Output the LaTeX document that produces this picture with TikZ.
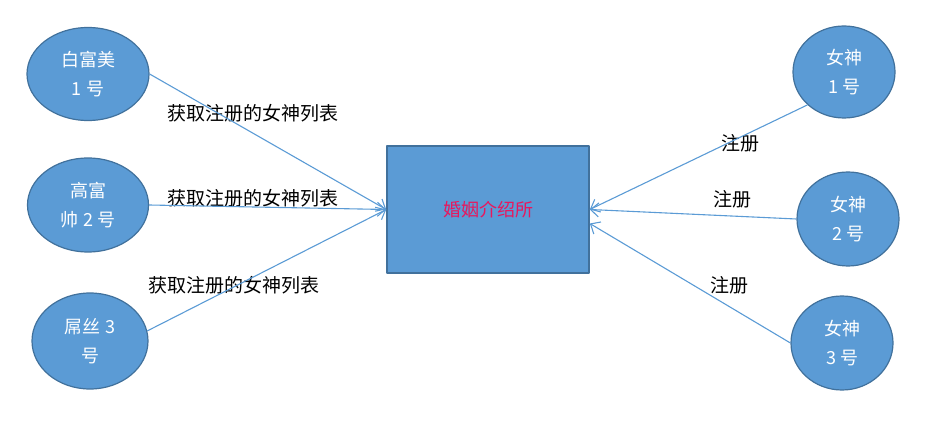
\documentclass[tikz,border=0pt]{standalone}
\usepackage{fontspec}
\usepackage{tikz}
\usetikzlibrary{arrows.meta}
\usetikzlibrary{shapes}
\newfontfamily\cjk{Noto Sans CJK SC}
\definecolor{nodeblue}{HTML}{5B9BD5}
\definecolor{nodeedge}{HTML}{41719C}
\definecolor{boxtext}{HTML}{E8175D}

\begin{document}
\begin{tikzpicture}[>={Straight Barb[length=8bp,width=14bp]},line join=bevel,
  person/.style={ellipse,draw=nodeedge,line width=1.2bp,fill=nodeblue,text=white,inner sep=0pt,align=center,font=\cjk\fontsize{18bp}{29bp}\selectfont},
  office/.style={rectangle,draw=nodeedge,line width=1.6bp,fill=nodeblue,text=boxtext,inner sep=0pt,font=\cjk\fontsize{18bp}{22bp}\selectfont},
  edgelabel/.style={text=black,inner sep=0pt,font=\cjk\fontsize{19bp}{22bp}\selectfont}]
\useasboundingbox (0bp,0bp) rectangle (941bp,443bp);
%%
\node (node_0) at (88bp,369bp) [person,minimum width=122bp,minimum height=93bp] {白富美\\1 号};
  \node (node_1) at (88bp,238bp) [person,minimum width=121bp,minimum height=94bp] {高富\\帅 2 号};
  \node (node_2) at (90bp,102bp) [person,minimum width=116bp,minimum height=96bp] {屌丝 3\\号};
  \node (node_3) at (488bp,233.5bp) [office,minimum width=202bp,minimum height=127bp] {婚姻介绍所};
  \node (node_4) at (844bp,371bp) [person,minimum width=102bp,minimum height=92bp] {女神\\1 号};
  \node (node_5) at (848bp,224bp) [person,minimum width=102bp,minimum height=94bp] {女神\\2 号};
  \node (node_6) at (842bp,100bp) [person,minimum width=102bp,minimum height=94bp] {女神\\3 号};
  \node (label_0) at (253bp,330bp) [edgelabel] {获取注册的女神列表};
  \node (label_1) at (253bp,245bp) [edgelabel] {获取注册的女神列表};
  \node (label_2) at (234bp,158bp) [edgelabel] {获取注册的女神列表};
  \node (label_4) at (740bp,300bp) [edgelabel] {注册};
  \node (label_5) at (732bp,244bp) [edgelabel] {注册};
  \node (label_6) at (729bp,158bp) [edgelabel] {注册};
  \draw [nodeblue,line width=1.1bp,->] (node_0.east) -- (node_3.west);
  \draw [nodeblue,line width=1.1bp,->] (node_1.east) -- (node_3.west);
  \draw [nodeblue,line width=1.1bp,->] (node_2.10) -- (node_3.west);
  \draw [nodeblue,line width=1.1bp,->] (node_4.222) -- (node_3.east);
  \draw [nodeblue,line width=1.1bp,->] (node_5.west) -- (node_3.east);
  \draw [nodeblue,line width=1.1bp,->] (node_6.west) -- ([yshift=-14bp]node_3.east);
%
\end{tikzpicture}
\end{document}
